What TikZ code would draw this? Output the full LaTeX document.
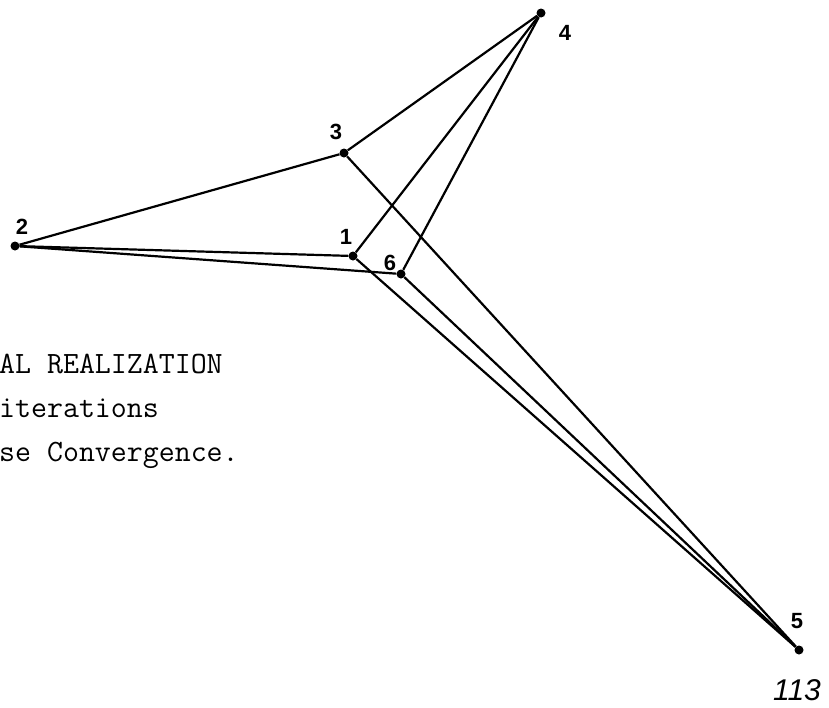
\documentclass[tikz,border=0pt]{standalone}
\usepackage{fontspec}
\setmainfont{Liberation Sans}
\usepackage{tikz}
\usetikzlibrary{positioning}

\begin{document}
\begin{tikzpicture}[
        x=1pt, y=-1pt,
        pt/.style={circle, fill=black, inner sep=0pt, minimum size=9pt},
        edge/.style={line width=2.2pt},
        num/.style={font=\fontsize{22}{22}\selectfont\bfseries},
        caption/.style={anchor=base west, inner sep=0pt, font=\fontsize{31}{31}\ttfamily}
    ]
    \useasboundingbox (0,0) rectangle (829,707);

    % Points of the realization
    \node[pt] (p1) at (353,256) {};
    \node[pt] (p2) at (15,246) {};
    \node[pt] (p3) at (344,153) {};
    \node[pt] (p4) at (541,13) {};
    \node[pt] (p5) at (799,650) {};
    \node[pt] (p6) at (401,274) {};

    % Point numbers
    \node[num] (l1) at (346,237) {1};
    \node[num] (l2) at (22,227) {2};
    \node[num] (l3) at (336,132) {3};
    \node[num] (l4) at (565,33) {4};
    \node[num] (l5) at (797,621) {5};
    \node[num] (l6) at (390,263) {6};

    % Edges
    \draw[edge] (p2) -- (p3);
    \draw[edge] (p2) -- (p1);
    \draw[edge] (p2) -- (p6);
    \draw[edge] (p3) -- (p4);
    \draw[edge] (p1) -- (p4);
    \draw[edge] (p6) -- (p4);
    \draw[edge] (p3) -- (p5);
    \draw[edge] (p1) -- (p5);
    \draw[edge] (p6) -- (p5);

    % Caption text (cut at the left edge)
    \node[caption] (cap1) at (-1,373) {AL REALIZATION};
    \node[caption] (cap2) at (-1,417) {iterations};
    \node[caption] (cap3) at (-1,461) {se Convergence.};

    % Page number
    \node[font=\fontsize{30}{30}\selectfont\itshape] (page) at (797,690) {113};
\end{tikzpicture}
\end{document}
